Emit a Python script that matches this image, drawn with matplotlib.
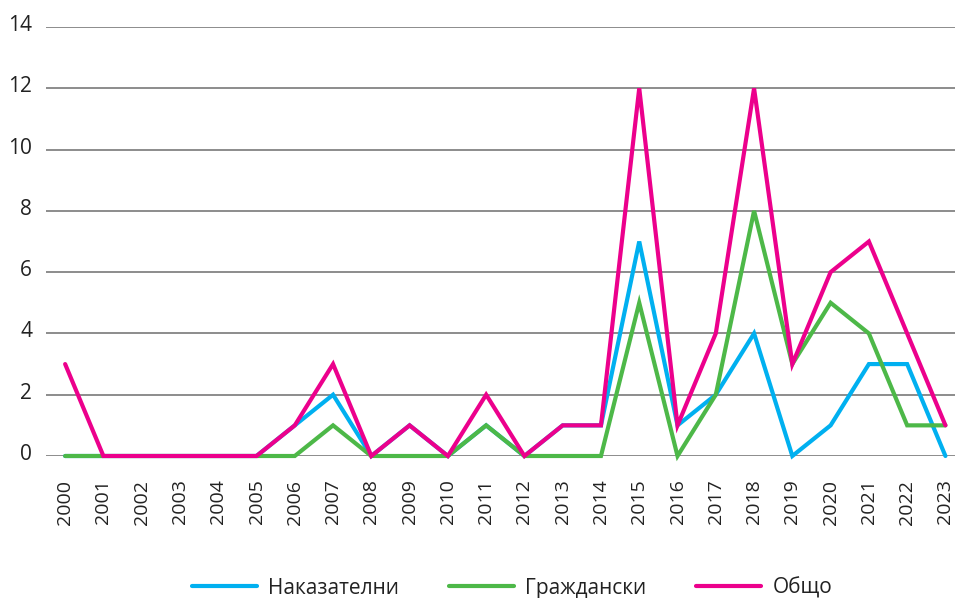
import matplotlib
matplotlib.use("Agg")
import matplotlib.pyplot as plt
import matplotlib.transforms as mtransforms

years = [str(y) for y in range(2000, 2024)]
nakazatelni = [0, 0, 0, 0, 0, 0, 1, 2, 0, 1, 0, 1, 0, 1, 1, 7, 1, 2, 4, 0, 1, 3, 3, 0]
grazhdanski = [0, 0, 0, 0, 0, 0, 0, 1, 0, 0, 0, 1, 0, 0, 0, 5, 0, 2, 8, 3, 5, 4, 1, 1]
obshto = [3, 0, 0, 0, 0, 0, 1, 3, 0, 1, 0, 2, 0, 1, 1, 12, 1, 4, 12, 3, 6, 7, 4, 1]
series_names = ["Наказателни", "Граждански", "Общо"]
colors = ["#00B0F0", "#4DB848", "#EC008C"]
y_ticks = [0, 2, 4, 6, 8, 10, 12, 14]

plt.rcParams['font.family'] = ['Open Sans', 'DejaVu Sans']

fig = plt.figure(figsize=(9.55, 5.98), dpi=100)
ax = fig.add_axes([46/955, 1 - 456/598, (955 - 46)/955, (456 - 27)/598])

x = list(range(len(years)))
for vals, name, c in zip([nakazatelni, grazhdanski, obshto], series_names, colors):
    ax.plot(x, vals, color=c, lw=3.0, label=name, clip_on=False, zorder=3,
            solid_capstyle='round', solid_joinstyle='miter')

ax.set_xlim(-0.5, 23.25)
ax.set_ylim(0, 14)
ax.set_yticks(y_ticks)
ax.set_yticklabels([str(v) for v in y_ticks])
ax.set_xticks(x)
ax.set_xticklabels(years, rotation=90)
ax.grid(axis='y', color='#8C8C8C', lw=1.4)
ax.set_axisbelow(True)
for s in ax.spines.values():
    s.set_visible(False)
ax.tick_params(axis='both', length=0, colors='#222222')
ax.tick_params(axis='y', pad=10, labelsize=15)
ax.tick_params(axis='x', pad=17, labelsize=14)

off = mtransforms.ScaledTranslation(0, 4/100, fig.dpi_scale_trans)
for lab in ax.get_yticklabels():
    lab.set_transform(lab.get_transform() + off)

leg = fig.legend(loc='center', bbox_to_anchor=(512/955, 1 - 588/598), ncol=3, frameon=False,
                 fontsize=15, handlelength=3.1, columnspacing=2.4, handletextpad=0.55)
for t in leg.get_texts():
    t.set_color('#222222')

fig.savefig("out.png", dpi=100)
